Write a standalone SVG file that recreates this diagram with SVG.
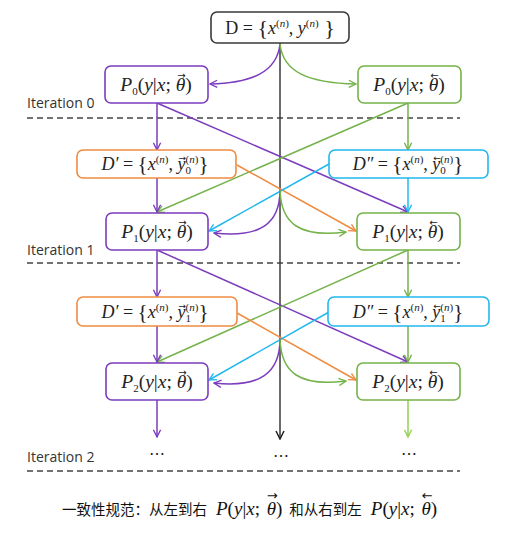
<svg xmlns="http://www.w3.org/2000/svg" width="511" height="535" viewBox="0 0 511 535">
<style>
.bg{fill:#fff}
.box{fill:#fff;stroke-width:1.6}
.pu{stroke:#7B3DBD}
.gr{stroke:#74B24A}
.lg{stroke:#92D050}
.or{stroke:#F08C42}
.bl{stroke:#22B8EE}
.dk{stroke:#3A3A3A}
.ln{fill:none;stroke-width:1.5}
.dash{stroke:#444;stroke-width:1.6;stroke-dasharray:6 4;fill:none}
.m{font-family:"Liberation Serif","DejaVu Serif",serif;font-size:18px;fill:#222}
.p{font-size:19.5px}
.it{font-style:italic}
.s{font-size:11px;font-style:normal}
.ar{font-family:"DejaVu Sans",sans-serif;font-style:normal}
.lab{font-family:"Open Sans","Liberation Sans",sans-serif;font-size:14px;fill:#333}
.dots{font-family:"Liberation Sans",sans-serif;font-size:16px;fill:#222}
.cap{font-family:"Noto Sans CJK SC","Noto Sans",sans-serif;font-size:14.5px;fill:#111}
.capm{font-family:"Liberation Serif","DejaVu Serif",serif;font-size:19px;fill:#111}
</style>
<defs>
<marker id="ap" viewBox="0 0 10 10" refX="9" refY="5" markerWidth="9" markerHeight="9" markerUnits="userSpaceOnUse" orient="auto"><path d="M1,1 L9,5 L1,9" fill="none" stroke="#7B3DBD" stroke-width="1.5"/></marker>
<marker id="ag" viewBox="0 0 10 10" refX="9" refY="5" markerWidth="9" markerHeight="9" markerUnits="userSpaceOnUse" orient="auto"><path d="M1,1 L9,5 L1,9" fill="none" stroke="#74B24A" stroke-width="1.5"/></marker>
<marker id="alg" viewBox="0 0 10 10" refX="9" refY="5" markerWidth="9" markerHeight="9" markerUnits="userSpaceOnUse" orient="auto"><path d="M1,1 L9,5 L1,9" fill="none" stroke="#92D050" stroke-width="1.5"/></marker>
<marker id="ao" viewBox="0 0 10 10" refX="9" refY="5" markerWidth="9" markerHeight="9" markerUnits="userSpaceOnUse" orient="auto"><path d="M1,1 L9,5 L1,9" fill="none" stroke="#F08C42" stroke-width="1.5"/></marker>
<marker id="ab" viewBox="0 0 10 10" refX="9" refY="5" markerWidth="9" markerHeight="9" markerUnits="userSpaceOnUse" orient="auto"><path d="M1,1 L9,5 L1,9" fill="none" stroke="#22B8EE" stroke-width="1.5"/></marker>
<marker id="ak" viewBox="0 0 10 10" refX="9" refY="5" markerWidth="10" markerHeight="10" markerUnits="userSpaceOnUse" orient="auto"><path d="M1,1 L9,5 L1,9" fill="none" stroke="#222" stroke-width="1.5"/></marker>
</defs>
<rect class="bg" width="511" height="535"/>

<g id="iterations">
<text class="lab" x="27" y="108">Iteration 0</text>
<line class="dash" x1="27" y1="118" x2="460" y2="118"/>
<text class="lab" x="27" y="255">Iteration 1</text>
<line class="dash" x1="27" y1="263" x2="460" y2="263"/>
<text class="lab" x="27" y="462">Iteration 2</text>
<line class="dash" x1="27" y1="471" x2="460" y2="471"/>
</g>

<g id="connectors">
<line class="ln dk" x1="280" y1="43" x2="280" y2="439" marker-end="url(#ak)"/>
<path class="ln pu" d="M280,44 C277,72 252,83 210,84" marker-end="url(#ap)"/>
<path class="ln gr" d="M280,44 C283,72 308,83 356,84" marker-end="url(#ag)"/>
<line class="ln pu" x1="157" y1="103" x2="157" y2="150" marker-end="url(#ap)"/>
<line class="ln pu" x1="157" y1="103" x2="408" y2="212" marker-end="url(#ap)"/>
<line class="ln gr" x1="408" y1="103" x2="408" y2="150" marker-end="url(#ag)"/>
<line class="ln gr" x1="408" y1="103" x2="157" y2="212" marker-end="url(#ag)"/>
<line class="ln pu" x1="157" y1="178" x2="157" y2="212" marker-end="url(#ap)"/>
<line class="ln bl" x1="408" y1="178" x2="408" y2="212" marker-end="url(#ab)"/>
<line class="ln or" x1="237" y1="165" x2="356" y2="231" marker-end="url(#ao)"/>
<line class="ln bl" x1="329" y1="164" x2="209" y2="231" marker-end="url(#ab)"/>
<path class="ln pu" d="M280,190 C280,224 260,238 214,233" marker-end="url(#ap)"/>
<path class="ln gr" d="M280,190 C281,224 300,238 346,232" marker-end="url(#ag)"/>
<line class="ln pu" x1="157" y1="250" x2="157" y2="297" marker-end="url(#ap)"/>
<line class="ln pu" x1="157" y1="250" x2="408" y2="362" marker-end="url(#ap)"/>
<line class="ln gr" x1="408" y1="250" x2="408" y2="297" marker-end="url(#ag)"/>
<line class="ln gr" x1="408" y1="250" x2="157" y2="362" marker-end="url(#ag)"/>
<line class="ln pu" x1="157" y1="326" x2="157" y2="362" marker-end="url(#ap)"/>
<line class="ln gr" x1="408" y1="326" x2="408" y2="362" marker-end="url(#ag)"/>
<line class="ln or" x1="237" y1="313" x2="356" y2="380" marker-end="url(#ao)"/>
<line class="ln bl" x1="329" y1="312" x2="209" y2="380" marker-end="url(#ab)"/>
<path class="ln pu" d="M280,339 C280,373 260,388 214,383" marker-end="url(#ap)"/>
<path class="ln gr" d="M280,339 C281,373 300,387 346,381" marker-end="url(#ag)"/>
<line class="ln pu" x1="157" y1="400" x2="157" y2="437" marker-end="url(#ap)"/>
<line class="ln lg" x1="408" y1="400" x2="408" y2="437" marker-end="url(#alg)"/>
</g>

<g id="D">
<rect class="box dk" x="211" y="12" width="138" height="31" rx="6" stroke-width="2"/>
<text class="m" x="280" y="34" text-anchor="middle">D = <tspan font-size="22" dy="1">{</tspan><tspan class="it" dy="-1">x</tspan><tspan class="s" dy="-7">(<tspan class="it">n</tspan>)</tspan><tspan dy="7">, </tspan><tspan class="it">y</tspan><tspan class="s" dy="-7">(<tspan class="it">n</tspan>)</tspan><tspan font-size="22" dy="8"> }</tspan></text>
</g>

<g id="P0L">
<rect class="box pu" x="105" y="66" width="103" height="37" rx="6"/>
<text class="m p" x="156" y="91" text-anchor="middle"><tspan class="it">P</tspan><tspan class="s" dy="4">0</tspan><tspan dy="-4">(</tspan><tspan class="it">y</tspan>|<tspan class="it">x</tspan>; <tspan class="it">θ</tspan><tspan class="ar" font-size="10" dx="-8" dy="-12">→</tspan><tspan dx="-0.4" dy="12">)</tspan></text>
</g>
<g id="P0R">
<rect class="box gr" x="358" y="66" width="103" height="37" rx="6"/>
<text class="m p" x="409" y="91" text-anchor="middle"><tspan class="it">P</tspan><tspan class="s" dy="4">0</tspan><tspan dy="-4">(</tspan><tspan class="it">y</tspan>|<tspan class="it">x</tspan>; <tspan class="it">θ</tspan><tspan class="ar" font-size="10" dx="-8" dy="-12">←</tspan><tspan dx="-0.4" dy="12">)</tspan></text>
</g>

<g id="D1L">
<rect class="box or" x="77" y="150" width="159" height="28" rx="6"/>
<text class="m" x="155" y="170" text-anchor="middle"><tspan class="it">D′</tspan> = <tspan font-size="21" dy="1">{</tspan><tspan class="it" dy="-1">x</tspan><tspan class="s" dy="-7">(<tspan class="it">n</tspan>)</tspan><tspan dy="7">, </tspan><tspan class="it">y</tspan><tspan class="ar" font-size="9" dx="-7" dy="-9">→</tspan><tspan class="s" dx="-0.5" dy="13">0</tspan><tspan class="s" dx="-5.5" dy="-11">(<tspan class="it">n</tspan>)</tspan><tspan font-size="21" dy="8">}</tspan></text>
</g>
<g id="D1R">
<rect class="box bl" x="329" y="150" width="159" height="28" rx="6"/>
<text class="m" x="408" y="170" text-anchor="middle"><tspan class="it">D″</tspan> = <tspan font-size="21" dy="1">{</tspan><tspan class="it" dy="-1">x</tspan><tspan class="s" dy="-7">(<tspan class="it">n</tspan>)</tspan><tspan dy="7">, </tspan><tspan class="it">y</tspan><tspan class="ar" font-size="9" dx="-7" dy="-9">←</tspan><tspan class="s" dx="-0.5" dy="13">0</tspan><tspan class="s" dx="-5.5" dy="-11">(<tspan class="it">n</tspan>)</tspan><tspan font-size="21" dy="8">}</tspan></text>
</g>

<g id="P1L">
<rect class="box pu" x="106" y="213" width="102" height="37" rx="6"/>
<text class="m p" x="157" y="238" text-anchor="middle"><tspan class="it">P</tspan><tspan class="s" dy="4">1</tspan><tspan dy="-4">(</tspan><tspan class="it">y</tspan>|<tspan class="it">x</tspan>; <tspan class="it">θ</tspan><tspan class="ar" font-size="10" dx="-8" dy="-12">→</tspan><tspan dx="-0.4" dy="12">)</tspan></text>
</g>
<g id="P1R">
<rect class="box gr" x="357" y="213" width="103" height="37" rx="6"/>
<text class="m p" x="408" y="238" text-anchor="middle"><tspan class="it">P</tspan><tspan class="s" dy="4">1</tspan><tspan dy="-4">(</tspan><tspan class="it">y</tspan>|<tspan class="it">x</tspan>; <tspan class="it">θ</tspan><tspan class="ar" font-size="10" dx="-8" dy="-12">←</tspan><tspan dx="-0.4" dy="12">)</tspan></text>
</g>

<g id="D2L">
<rect class="box or" x="77" y="297" width="160" height="29" rx="6"/>
<text class="m" x="155" y="318" text-anchor="middle"><tspan class="it">D′</tspan> = <tspan font-size="21" dy="1">{</tspan><tspan class="it" dy="-1">x</tspan><tspan class="s" dy="-7">(<tspan class="it">n</tspan>)</tspan><tspan dy="7">, </tspan><tspan class="it">y</tspan><tspan class="ar" font-size="9" dx="-7" dy="-9">→</tspan><tspan class="s" dx="-0.5" dy="13">1</tspan><tspan class="s" dx="-5.5" dy="-11">(<tspan class="it">n</tspan>)</tspan><tspan font-size="21" dy="8">}</tspan></text>
</g>
<g id="D2R">
<rect class="box bl" x="328" y="297" width="161" height="29" rx="6"/>
<text class="m" x="408" y="318" text-anchor="middle"><tspan class="it">D″</tspan> = <tspan font-size="21" dy="1">{</tspan><tspan class="it" dy="-1">x</tspan><tspan class="s" dy="-7">(<tspan class="it">n</tspan>)</tspan><tspan dy="7">, </tspan><tspan class="it">y</tspan><tspan class="ar" font-size="9" dx="-7" dy="-9">←</tspan><tspan class="s" dx="-0.5" dy="13">1</tspan><tspan class="s" dx="-5.5" dy="-11">(<tspan class="it">n</tspan>)</tspan><tspan font-size="21" dy="8">}</tspan></text>
</g>

<g id="P2L">
<rect class="box pu" x="106" y="363" width="102" height="37" rx="6"/>
<text class="m p" x="157" y="388" text-anchor="middle"><tspan class="it">P</tspan><tspan class="s" dy="4">2</tspan><tspan dy="-4">(</tspan><tspan class="it">y</tspan>|<tspan class="it">x</tspan>; <tspan class="it">θ</tspan><tspan class="ar" font-size="10" dx="-8" dy="-12">→</tspan><tspan dx="-0.4" dy="12">)</tspan></text>
</g>
<g id="P2R">
<rect class="box gr" x="357" y="363" width="103" height="37" rx="6"/>
<text class="m p" x="408" y="388" text-anchor="middle"><tspan class="it">P</tspan><tspan class="s" dy="4">2</tspan><tspan dy="-4">(</tspan><tspan class="it">y</tspan>|<tspan class="it">x</tspan>; <tspan class="it">θ</tspan><tspan class="ar" font-size="10" dx="-8" dy="-12">←</tspan><tspan dx="-0.4" dy="12">)</tspan></text>
</g>

<g id="dots">
<text class="dots" x="157" y="459" text-anchor="middle">⋯</text>
<text class="dots" x="281" y="461" text-anchor="middle">⋯</text>
<text class="dots" x="409" y="459" text-anchor="middle">⋯</text>
</g>

<g id="caption">
<text class="cap" x="62" y="515">一致性规范：从左到右<tspan class="capm it" dx="9">P</tspan><tspan class="capm">(</tspan><tspan class="capm it">y</tspan><tspan class="capm">|</tspan><tspan class="capm it">x</tspan><tspan class="capm">; </tspan><tspan class="capm it" dx="2">θ</tspan><tspan class="ar" font-size="13" dx="-9.2" dy="-15">→</tspan><tspan class="capm" dx="-1.7" dy="15">)</tspan><tspan dx="7">和从右到左</tspan><tspan class="capm it" dx="9">P</tspan><tspan class="capm">(</tspan><tspan class="capm it">y</tspan><tspan class="capm">|</tspan><tspan class="capm it">x</tspan><tspan class="capm">; </tspan><tspan class="capm it" dx="2">θ</tspan><tspan class="ar" font-size="13" dx="-9.2" dy="-15">←</tspan><tspan class="capm" dx="-1.7" dy="15">)</tspan></text>
</g>
</svg>
